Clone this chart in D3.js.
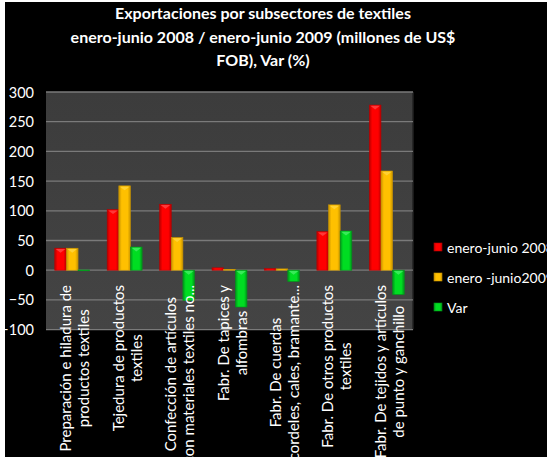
<!DOCTYPE html>
<html><head><meta charset="utf-8">
<script src="https://cdn.jsdelivr.net/npm/d3@7/dist/d3.min.js"></script>
<style>
html,body{margin:0;padding:0;background:#fff;}
svg{display:block;font-family:Lato,"Open Sans",sans-serif;}
</style></head>
<body>
<svg id="c" width="547" height="459"></svg>
<script>
const titleLines = ["Exportaciones por subsectores de textiles",
  "enero-junio 2008 / enero-junio 2009 (millones de US$",
  "FOB), Var (%)"];
const categories = [
  ["Preparación e hiladura de","productos textiles"],
  ["Tejedura de productos","textiles"],
  ["Confección de artículos","con materiales textiles no..."],
  ["Fabr. De tapices y","alfombras"],
  ["Fabr. De cuerdas","cordeles, cales, bramante..."],
  ["Fabr. De otros productos","textiles"],
  ["Fabr. De tejidos y artículos","de punto y ganchillo"]
];
const seriesNames = ["enero-junio 2008","enero -junio2009","Var"];
const values2008 = [37, 102, 111, 4, 2.7, 65, 278];
const values2009 = [37, 142, 55, 1.5, 2.2, 110, 167];
const valuesVar  = [0.4, 39, -51, -62, -19, 66, -41];
const yTicks = [-100, -50, 0, 50, 100, 150, 200, 250, 300];
const colors = [
  {base:"#ff0000", edge:"#b80000", light:"#ff5050"},
  {base:"#ffc000", edge:"#c99400", light:"#ffd84a"},
  {base:"#00dd22", edge:"#00951a", light:"#50f070"}
];

const svg = d3.select("#c");
svg.append("rect").attr("x",5).attr("y",2).attr("width",542).attr("height",455).attr("fill","#000");

const defs = svg.append("defs");
colors.forEach((c,i)=>{
  const g = defs.append("linearGradient").attr("id","g"+i).attr("x1","0").attr("x2","1").attr("y1","0").attr("y2","0");
  g.append("stop").attr("offset","0").attr("stop-color",c.edge);
  g.append("stop").attr("offset","0.25").attr("stop-color",c.base);
  g.append("stop").attr("offset","0.75").attr("stop-color",c.base);
  g.append("stop").attr("offset","1").attr("stop-color",c.edge);
});
const pg = defs.append("linearGradient").attr("id","pg").attr("x1","0").attr("x2","0").attr("y1","0").attr("y2","1");
pg.append("stop").attr("offset","0").attr("stop-color","#3c3c3c");
pg.append("stop").attr("offset","1").attr("stop-color","#444");

const plot = {left:46, right:413, top:92, bottom:329.6};
const y = d3.scaleLinear().domain([-100,300]).range([plot.bottom, plot.top]);
const x = d3.scaleBand().domain(d3.range(categories.length)).range([plot.left, plot.right]).paddingInner(0).paddingOuter(0);
const bw = x.bandwidth();
const xs = d3.scaleBand().domain(d3.range(3)).range([bw*0.75/4.5, bw - bw*0.75/4.5]).padding(0);

// plot area
svg.append("rect").attr("x",plot.left).attr("y",plot.top).attr("width",plot.right-plot.left).attr("height",plot.bottom-plot.top).attr("fill","url(#pg)");
svg.append("line").attr("x1",plot.right).attr("x2",plot.right).attr("y1",plot.top).attr("y2",plot.bottom).attr("stroke","#222").attr("stroke-width",1.5);

// grid
svg.append("g").selectAll("line").data(yTicks).join("line")
  .attr("x1",plot.left).attr("x2",plot.right)
  .attr("y1",d=>y(d)).attr("y2",d=>y(d))
  .attr("stroke","#7a7a7a").attr("stroke-width",1.3);

// y axis
const yAxis = d3.axisLeft(y).tickValues(yTicks).tickSize(0).tickPadding(0);
const ga = svg.append("g").attr("transform",`translate(34,0)`).call(yAxis);
ga.select(".domain").remove();
ga.selectAll("text").attr("fill","#fff").attr("font-size",14.5).attr("font-family","Lato,sans-serif").attr("dy","0.35em");

// bars
const allSeries = [values2008, values2009, valuesVar];
allSeries.forEach((vals,si)=>{
  const g = svg.append("g");
  g.selectAll("rect").data(vals).join("rect")
    .attr("x",(d,i)=>x(i)+xs(si))
    .attr("width",xs.bandwidth())
    .attr("y",d=>y(Math.max(0,d)))
    .attr("height",d=>Math.max(0.8,Math.abs(y(d)-y(0))))
    .attr("fill","url(#g"+si+")")
    .attr("stroke",colors[si].edge).attr("stroke-width",0.6);
  g.selectAll("path").data(vals).join("path")
    .attr("d",(d,i)=>{
      const x0 = x(i)+xs(si), w = xs.bandwidth();
      const h = Math.abs(y(d)-y(0));
      if (h < 6) return "";
      const yt = y(Math.max(0,d));
      return `M${x0+1},${yt+0.8}L${x0+w-1},${yt+0.8}L${x0+w/2},${yt+4.5}Z`;
    })
    .attr("fill",colors[si].light).attr("opacity",0.7);
});

// x labels
const lab = svg.append("g").attr("fill","#fff").attr("font-size",15).attr("font-family","Lato,sans-serif");
categories.forEach((lines,i)=>{
  const cx = x(i)+bw/2 + 2;
  const n = lines.length;
  const tmp = lines.map(l=>{
    const t = lab.append("text").text(l);
    const len = t.node().getComputedTextLength();
    t.remove();
    return len;
  });
  const maxLen = d3.max(tmp);
  const cy = 285 + maxLen/2;
  lines.forEach((l,j)=>{
    const lx = cx + (j-(n-1)/2)*18;
    lab.append("text").text(l)
      .attr("text-anchor","middle")
      .attr("dominant-baseline","central")
      .attr("transform",`translate(${lx},${cy}) rotate(-90)`);
  });
});

// title
svg.append("g").selectAll("text").data(titleLines).join("text")
  .attr("x",263).attr("y",(d,i)=>19+i*23.5)
  .attr("text-anchor","middle").attr("fill","#fff")
  .attr("font-weight","bold").attr("font-size",16).attr("font-family","Lato,sans-serif")
  .text(d=>d);

// legend
const lg = svg.append("g");
seriesNames.forEach((s,i)=>{
  const cy = 247 + i*30;
  lg.append("rect").attr("x",434).attr("y",cy-4).attr("width",8).attr("height",8)
    .attr("fill","url(#g"+i+")").attr("stroke",colors[i].edge).attr("stroke-width",0.6);
  lg.append("text").attr("x",447).attr("y",cy).attr("dominant-baseline","central")
    .attr("fill","#fff").attr("font-size",14).attr("font-family","Lato,sans-serif").text(s);
});
</script>
</body></html>
